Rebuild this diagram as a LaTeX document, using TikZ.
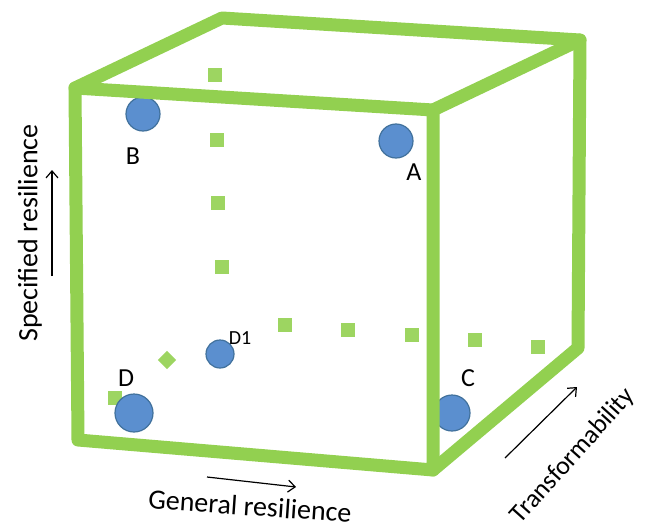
\documentclass[tikz,border=0pt]{standalone}
\usepackage{fontspec}
\setmainfont{Carlito}
\usepackage{tikz}
\usetikzlibrary{arrows.meta}

\definecolor{cubegreen}{HTML}{92D050}
\definecolor{ballfill}{HTML}{5B8FCF}
\definecolor{ballline}{HTML}{41719C}

\begin{document}
\begin{tikzpicture}[x=1pt,y=-1pt,
    edge/.style={cubegreen,line width=13pt,line cap=round,line join=round},
    dot/.style={fill=cubegreen,opacity=0.9,minimum size=14pt,inner sep=0pt},
    ball/.style={circle,fill=ballfill,draw=ballline,line width=1.2pt,inner sep=0pt,minimum size=#1},
    lbl/.style={font=\fontsize{26}{28}\selectfont,inner sep=0pt},
    axis/.style={font=\fontsize{28}{30}\selectfont,inner sep=0pt},
    axarrow/.style={-{Straight Barb[length=7pt,width=12pt]},line width=1.2pt}]
    \useasboundingbox (0,0) rectangle (645,530);

    % Cube corners
    \coordinate (ftl) at (75,88);
    \coordinate (ftr) at (433,110);
    \coordinate (fbr) at (433,470);
    \coordinate (fbl) at (78,440);
    \coordinate (btl) at (222,18);
    \coordinate (btr) at (580,40);
    \coordinate (bbr) at (578,348);

    % Hidden edges (dotted squares)
    \foreach \x/\y in {215/75,217/140,218/203,222/267,285/325,348/330,412/335,475/340,538/347,115/398}
        \node[dot] at (\x,\y) {};
    \node[dot,rotate=45,minimum size=13pt] at (167,360) {};

    % Balls
    \node[ball=34pt] (ballB) at (143,114) {};
    \node[ball=34pt] (ballA) at (396,141) {};
    \node[ball=38pt] (ballD) at (134,413) {};
    \node[ball=36pt] (ballC) at (452,413) {};
    \node[ball=28pt] (ballD1) at (220,354) {};

    % Cube
    \draw[edge] (fbl) -- (ftl) -- (ftr) -- (fbr) -- cycle;
    \draw[edge] (ftl) -- (btl) -- (btr) -- (ftr);
    \draw[edge] (btr) -- (bbr) -- (fbr);

    % Ball labels
    \node[lbl] (labB) at (133,156) {B};
    \node[lbl] (labA) at (414,172) {A};
    \node[lbl] (labD) at (126,378) {D};
    \node[lbl] (labC) at (468,378) {C};
    \node[lbl,font=\fontsize{20}{22}\selectfont] (labD1) at (240,338) {D1};

    % Axes
    \node[axis,rotate=90] (specified) at (30,233) {Specified resilience};
    \coordinate (sa) at (52,276);
    \coordinate (sb) at (52,170);
    \draw[axarrow] (sa) -- (sb);

    \node[axis,rotate=-4] (general) at (250,506) {General resilience};
    \coordinate (ga) at (207,477);
    \coordinate (gb) at (296,487);
    \draw[axarrow] (ga) -- (gb);

    \node[axis,rotate=48,font=\fontsize{26}{28}\selectfont] (transform) at (573,456) {Transformability};
    \coordinate (ta) at (505,458);
    \coordinate (tb) at (577,387);
    \draw[axarrow] (ta) -- (tb);
\end{tikzpicture}
\end{document}
